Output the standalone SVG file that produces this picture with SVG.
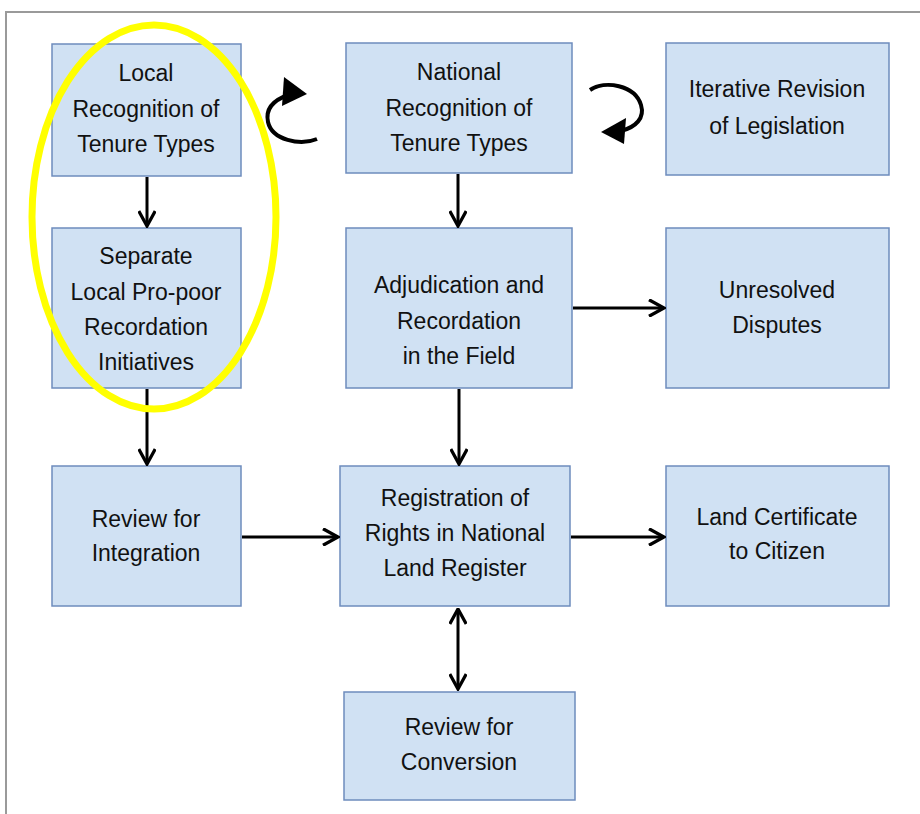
<svg xmlns="http://www.w3.org/2000/svg" width="920" height="814" viewBox="0 0 920 814">
<defs>
<style>
.box{fill:#d0e1f3;stroke:#6e8cbd;stroke-width:1.5}
.t{font-family:"Liberation Sans",Arial,sans-serif;font-size:23px;fill:#111;text-anchor:middle}
.c{stroke:#000;stroke-width:3;fill:none}
.cv{stroke:#000;stroke-width:4;fill:none}
</style>
<marker id="ah" viewBox="0 0 12 12" refX="11" refY="6" markerWidth="6" markerHeight="6" orient="auto-start-reverse" markerUnits="strokeWidth">
<path d="M1,0.5 L11,6 L1,11.5" fill="none" stroke="#000" stroke-width="2.2"/>
</marker>
</defs>
<rect width="920" height="814" fill="#fff"/>
<path d="M6,814 V12 H920" fill="none" stroke="#9a9a9a" stroke-width="2"/>
<g id="n1"><rect class="box" x="52" y="44" width="189" height="132"/><text class="t" x="146" y="81">Local</text><text class="t" x="146" y="117">Recognition of</text><text class="t" x="146" y="152">Tenure Types</text></g>
<g id="n2"><rect class="box" x="346" y="43" width="226" height="130"/><text class="t" x="459" y="80">National</text><text class="t" x="459" y="116">Recognition of</text><text class="t" x="459" y="151">Tenure Types</text></g>
<g id="n3"><rect class="box" x="666" y="43" width="223" height="132"/><text class="t" x="777" y="97">Iterative Revision</text><text class="t" x="777" y="134">of Legislation</text></g>
<g id="n4"><rect class="box" x="52" y="228" width="189" height="160"/><text class="t" x="146" y="264">Separate</text><text class="t" x="146" y="300">Local Pro-poor</text><text class="t" x="146" y="335">Recordation</text><text class="t" x="146" y="370">Initiatives</text></g>
<g id="n5"><rect class="box" x="346" y="228" width="226" height="160"/><text class="t" x="459" y="293">Adjudication and</text><text class="t" x="459" y="329">Recordation</text><text class="t" x="459" y="364">in the Field</text></g>
<g id="n6"><rect class="box" x="666" y="228" width="223" height="160"/><text class="t" x="777" y="298">Unresolved</text><text class="t" x="777" y="333">Disputes</text></g>
<g id="n7"><rect class="box" x="52" y="466" width="189" height="140"/><text class="t" x="146" y="527">Review for</text><text class="t" x="146" y="561">Integration</text></g>
<g id="n8"><rect class="box" x="340" y="466" width="230" height="140"/><text class="t" x="455" y="506">Registration of</text><text class="t" x="455" y="541">Rights in National</text><text class="t" x="455" y="576">Land Register</text></g>
<g id="n9"><rect class="box" x="666" y="466" width="223" height="140"/><text class="t" x="777" y="525">Land Certificate</text><text class="t" x="777" y="559">to Citizen</text></g>
<g id="n10"><rect class="box" x="344" y="692" width="231" height="108"/><text class="t" x="459" y="735">Review for</text><text class="t" x="459" y="770">Conversion</text></g>
<g id="connectors">
<line class="c" x1="147" y1="177" x2="147" y2="226" marker-end="url(#ah)"/>
<line class="c" x1="458" y1="174" x2="458" y2="226" marker-end="url(#ah)"/>
<line class="c" x1="573" y1="308" x2="664" y2="308" marker-end="url(#ah)"/>
<line class="c" x1="147" y1="389" x2="147" y2="464" marker-end="url(#ah)"/>
<line class="c" x1="459" y1="389" x2="459" y2="464" marker-end="url(#ah)"/>
<line class="c" x1="242" y1="537" x2="338" y2="537" marker-end="url(#ah)"/>
<line class="c" x1="571" y1="537" x2="664" y2="537" marker-end="url(#ah)"/>
<line class="c" x1="458" y1="609" x2="458" y2="689" marker-start="url(#ah)" marker-end="url(#ah)"/>
<path class="cv" d="M317,139 C300,146 272,140 268,122 C265,108 274,100 288,95"/>
<polygon points="284,77 307,94 282,106" fill="#000"/>
<path class="cv" d="M590,90 C605,80 635,85 641,105 C645,118 636,127 621,131"/>
<polygon points="601,132 626,118 624,144" fill="#000"/>
</g>
<ellipse cx="154" cy="217" rx="122" ry="192" fill="none" stroke="#ffff00" stroke-width="7"/>
</svg>
